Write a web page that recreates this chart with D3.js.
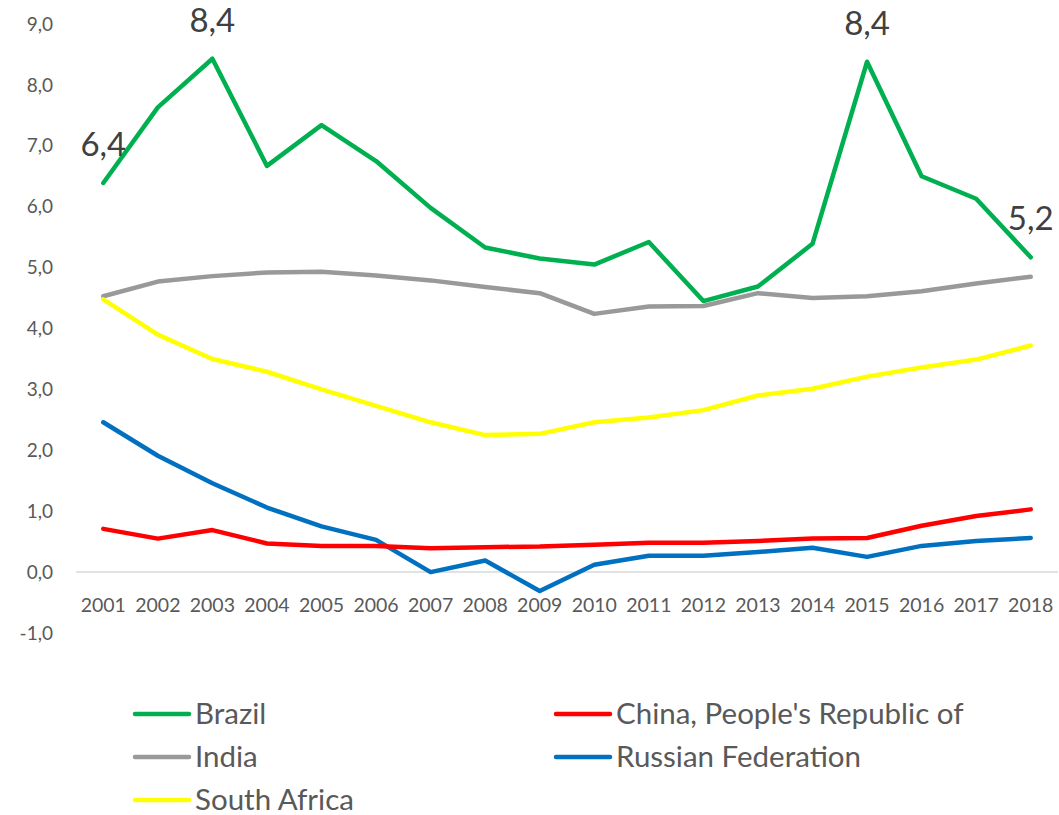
<!DOCTYPE html>
<html><head><meta charset="utf-8">
<script src="https://cdn.jsdelivr.net/npm/d3@7"></script>
<style>body{margin:0;background:#fff}svg{display:block}</style>
</head><body><svg id="c" width="1059" height="815"></svg>
<script>
const years = ["2001","2002","2003","2004","2005","2006","2007","2008","2009","2010","2011","2012","2013","2014","2015","2016","2017","2018"];
const brazil = [6.39,7.63,8.43,6.67,7.34,6.75,5.98,5.33,5.15,5.05,5.42,4.45,4.69,5.39,8.38,6.50,6.13,5.17];
const china = [0.71,0.55,0.69,0.47,0.43,0.43,0.39,0.41,0.42,0.45,0.48,0.48,0.51,0.55,0.56,0.76,0.92,1.03];
const india = [4.53,4.77,4.86,4.92,4.93,4.87,4.79,4.68,4.58,4.24,4.36,4.37,4.58,4.50,4.53,4.61,4.74,4.85];
const russia = [2.46,1.91,1.46,1.06,0.75,0.53,0.0,0.19,-0.31,0.12,0.27,0.27,0.33,0.40,0.25,0.43,0.51,0.56];
const southAfrica = [4.48,3.90,3.50,3.29,3.00,2.73,2.46,2.25,2.27,2.46,2.54,2.66,2.90,3.01,3.21,3.36,3.49,3.72];
const yTicks = [-1,0,1,2,3,4,5,6,7,8,9];
const labelledBrazil = ["2001","2003","2015","2018"];

const series = [
  {name:"Brazil", values:brazil, color:"#00B050"},
  {name:"China, People's Republic of", values:china, color:"#FF0000"},
  {name:"India", values:india, color:"#999999"},
  {name:"Russian Federation", values:russia, color:"#0070C0"},
  {name:"South Africa", values:southAfrica, color:"#FFFF00"}
];
const drawOrder = [2,4,3,1,0];

const svg = d3.select("#c");
const font = "Lato, 'Open Sans', sans-serif";
const x = d3.scaleBand().domain(years).range([76,1058]);
const y = d3.scaleLinear().domain([-1,9]).range([633,24]);
const fmt = v => d3.format(".1f")(v).replace(".",",").replace("\u2212","-");

// y tick labels
svg.append("g").selectAll("text").data(yTicks).join("text")
  .attr("x",53).attr("y",d=>y(d)).attr("dy","0.35em")
  .attr("text-anchor","end").attr("font-family",font).attr("font-size",19)
  .attr("fill","#595959").text(fmt);

// zero line
svg.append("line").attr("x1",76).attr("x2",1058).attr("y1",y(0)).attr("y2",y(0))
  .attr("stroke","#d9d9d9").attr("stroke-width",1.5);

// x labels
svg.append("g").selectAll("text").data(years).join("text")
  .attr("x",d=>x(d)+x.bandwidth()/2).attr("y",y(0)+40)
  .attr("text-anchor","middle").attr("font-family",font).attr("font-size",19.5)
  .attr("fill","#595959").text(d=>d);

const line = d3.line().x((d,i)=>x(years[i])+x.bandwidth()/2).y(d=>y(d));
drawOrder.forEach(k=>{
  const s = series[k];
  svg.append("path").datum(s.values).attr("d",line)
    .attr("fill","none").attr("stroke",s.color).attr("stroke-width",4.5)
    .attr("stroke-linejoin","round").attr("stroke-linecap","round");
});

// data labels
svg.append("g").selectAll("text").data(labelledBrazil).join("text")
  .attr("x",d=>x(d)+x.bandwidth()/2).attr("y",d=>y(brazil[years.indexOf(d)])-27)
  .attr("text-anchor","middle").attr("font-family",font).attr("font-size",33)
  .attr("fill","#404040").text(d=>fmt(brazil[years.indexOf(d)]));

// legend
const legPos = [[135,714],[556,714],[135,757],[556,757],[135,800]];
series.forEach((s,i)=>{
  const [lx,ly] = legPos[i];
  svg.append("line").attr("x1",lx).attr("x2",lx+54).attr("y1",ly).attr("y2",ly)
    .attr("stroke",s.color).attr("stroke-width",4.5).attr("stroke-linecap","round");
  svg.append("text").attr("x",lx+60).attr("y",ly+10)
    .attr("font-family",font).attr("font-size",29.5).attr("fill","#595959").text(s.name);
});
</script></body></html>
